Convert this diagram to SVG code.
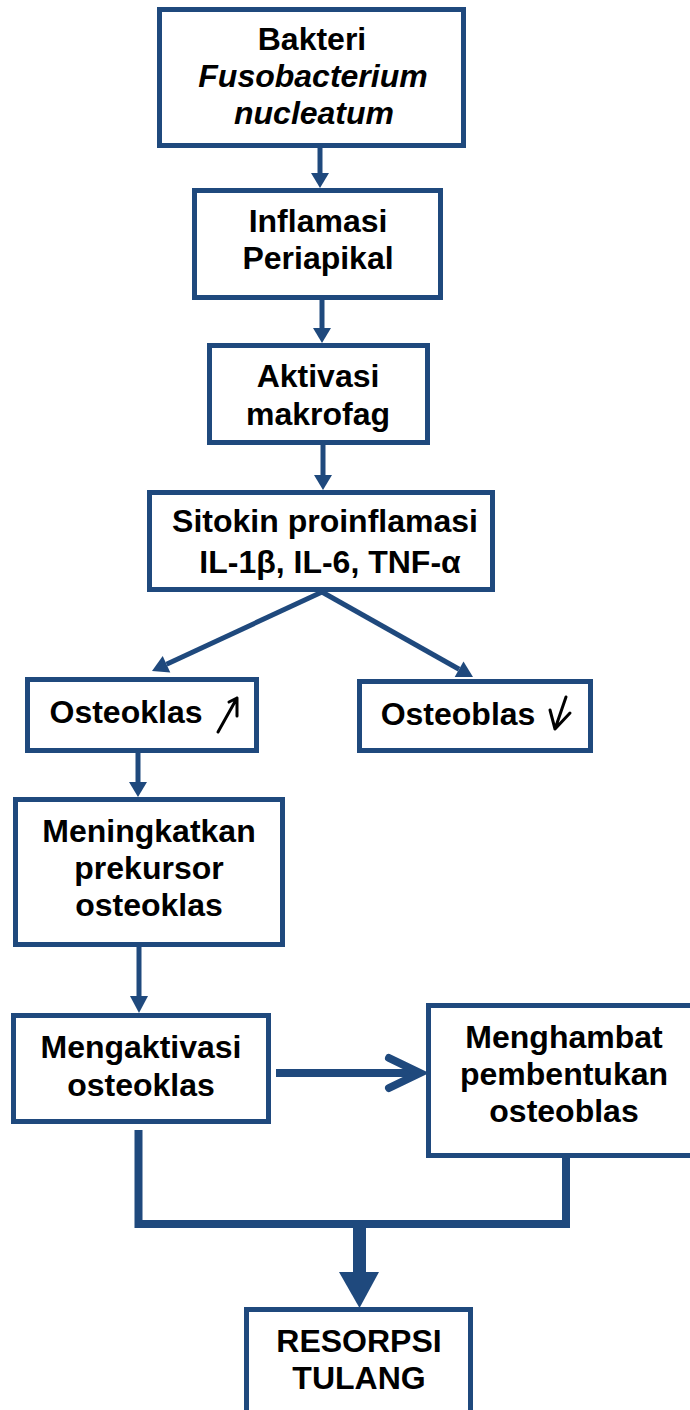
<svg xmlns="http://www.w3.org/2000/svg" width="690" height="1410" viewBox="0 0 690 1410">
<style>
.box{fill:#fff;stroke:#1F497D;stroke-width:5}
.t{font-family:"Liberation Sans",Arial,sans-serif;font-weight:bold;font-size:32px;fill:#000;text-anchor:middle}
.i{font-style:italic}
.ln{stroke:#1F497D;stroke-width:5;fill:none}
.hd{fill:#1F497D;stroke:none}
.sym{stroke:#000;stroke-width:3;fill:none;stroke-linecap:round;stroke-linejoin:round}
</style>
<rect width="690" height="1410" fill="#fff"/>
<g id="connectors">
<line class="ln" x1="320" y1="147" x2="320" y2="175"/>
<polygon class="hd" points="311,173 329,173 320,188"/>
<line class="ln" x1="322" y1="299" x2="322" y2="330"/>
<polygon class="hd" points="313,328 331,328 322,343"/>
<line class="ln" x1="323" y1="444" x2="323" y2="477"/>
<polygon class="hd" points="314,475 332,475 323,490"/>
<line class="ln" x1="322" y1="592" x2="166.5" y2="664.3"/>
<polygon class="hd" points="170.3,672.5 162.7,656.1 152,671"/>
<line class="ln" x1="322" y1="592" x2="459.1" y2="669.2"/>
<polygon class="hd" points="454.7,677 463.5,661.4 473,677"/>
<line class="ln" x1="138" y1="752" x2="138" y2="784"/>
<polygon class="hd" points="129,782 147,782 138,797"/>
<line class="ln" x1="139" y1="945" x2="139" y2="998"/>
<polygon class="hd" points="130,996 148,996 139,1013"/>
<line x1="276" y1="1073" x2="416" y2="1073" stroke="#1F497D" stroke-width="8"/>
<polyline points="389,1058 420,1073 389,1088" fill="none" stroke="#1F497D" stroke-width="8" stroke-linecap="round" stroke-linejoin="miter"/>
<polyline points="138.5,1130 138.5,1224 566,1224 566,1157" fill="none" stroke="#1F497D" stroke-width="8" stroke-linejoin="miter"/>
<rect class="hd" x="353" y="1228" width="13" height="46"/>
<polygon class="hd" points="339,1272 379,1272 359.5,1308"/>
</g>
<g id="n1">
<rect class="box" x="159.5" y="9.5" width="304" height="136"/>
<text class="t" x="312" y="50">Bakteri</text>
<text class="t i" x="313" y="87">Fusobacterium</text>
<text class="t i" x="314" y="124">nucleatum</text>
</g>
<g id="n2">
<rect class="box" x="194.5" y="190.5" width="246" height="107"/>
<text class="t" x="318" y="232">Inflamasi</text>
<text class="t" x="318" y="269">Periapikal</text>
</g>
<g id="n3">
<rect class="box" x="209.5" y="345.5" width="218" height="97"/>
<text class="t" x="318" y="387">Aktivasi</text>
<text class="t" x="318" y="425">makrofag</text>
</g>
<g id="n4">
<rect class="box" x="149.5" y="492.5" width="343" height="97"/>
<text class="t" x="325" y="532">Sitokin proinflamasi</text>
<text class="t" x="330" y="573">IL-1β, IL-6, TNF-α</text>
</g>
<g id="n5">
<rect class="box" x="27.5" y="679.5" width="229" height="71"/>
<text class="t" x="126" y="723">Osteoklas</text>
<path class="sym" d="M218,732 L237,698 M229,702 L237,698 L237,716"/>
</g>
<g id="n6">
<rect class="box" x="359.5" y="681.5" width="231" height="69"/>
<text class="t" x="458" y="725">Osteoblas</text>
<path class="sym" d="M566,697 L555,729 M550,710 L555,729 L570,713"/>
</g>
<g id="n7">
<rect class="box" x="15.5" y="799.5" width="267" height="145"/>
<text class="t" x="149" y="842">Meningkatkan</text>
<text class="t" x="149" y="879">prekursor</text>
<text class="t" x="149" y="916">osteoklas</text>
</g>
<g id="n8">
<rect class="box" x="13.5" y="1015.5" width="255" height="106"/>
<text class="t" x="141" y="1058">Mengaktivasi</text>
<text class="t" x="141" y="1096">osteoklas</text>
</g>
<g id="n9">
<rect class="box" x="428.5" y="1005.5" width="270" height="150"/>
<text class="t" x="564" y="1048">Menghambat</text>
<text class="t" x="564" y="1085">pembentukan</text>
<text class="t" x="564" y="1122">osteoblas</text>
</g>
<g id="n10">
<rect class="box" x="246.5" y="1309.5" width="224" height="120"/>
<text class="t" x="359" y="1352">RESORPSI</text>
<text class="t" x="359" y="1389">TULANG</text>
</g>
</svg>
